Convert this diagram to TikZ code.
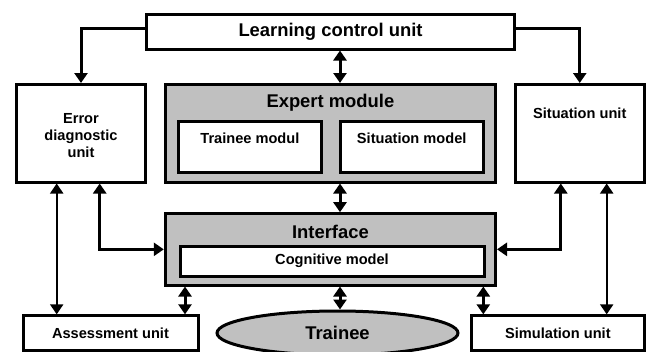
\documentclass[tikz,border=0pt]{standalone}
\usepackage{fontspec}
\setmainfont{Liberation Sans}
\usetikzlibrary{arrows.meta, positioning, shapes.geometric}
\definecolor{boxgray}{RGB}{192,192,192}

\begin{document}
\begin{tikzpicture}[x=1pt, y=-1pt,
    box/.style={draw, line width=3pt, fill=white, inner sep=0pt},
    graybox/.style={box, fill=boxgray},
    small/.style={font=\bfseries\fontsize{14.6}{16.8}\selectfont, align=center, inner sep=0pt},
    big/.style={font=\bfseries\fontsize{18.4}{21}\selectfont, align=center, inner sep=0pt},
    link/.style={line width=3pt, >={Triangle[width=13pt,length=10pt]}},
    thinlink/.style={link, line width=2pt},
  ]
  \useasboundingbox (0,0) rectangle (651,351);

  % x positions of the vertical links
  \coordinate (xa) at (56.7,0);
  \coordinate (xb) at (99.7,0);
  \coordinate (xc) at (185,0);
  \coordinate (xd) at (340,0);
  \coordinate (xe) at (483.3,0);
  \coordinate (xf) at (560.8,0);
  \coordinate (xg) at (606.7,0);

  % boxes
  \node[box, big, minimum width=368pt, minimum height=35pt] (lcu) at (330.5,31.5) {Learning control unit};
  \node[box, minimum width=129pt, minimum height=97.5pt] (edu) at (81,133.25) {};
  \node[graybox, minimum width=330.2pt, minimum height=97.5pt] (em) at (330.4,133.25) {};
  \node[box, minimum width=143.2pt, minimum height=51.2pt] (tm) at (249.9,146.9) {};
  \node[box, minimum width=143.3pt, minimum height=51.2pt] (smod) at (411.7,146.9) {};
  \node[box, minimum width=129.5pt, minimum height=97.5pt] (sun) at (579.75,133.25) {};
  \node[graybox, minimum width=330.2pt, minimum height=71.3pt] (ifc) at (330.4,249.35) {};
  \node[box, small, minimum width=304pt, minimum height=29.7pt] (cm) at (332,261.15) {Cognitive model};
  \node[box, small, minimum width=175pt, minimum height=34.3pt] (asu) at (110.5,333) {Assessment unit};
  \node[box, small, minimum width=173.2pt, minimum height=34.3pt] (simu) at (557.9,333) {Simulation unit};
  \node[graybox, big, ellipse, minimum width=241pt, minimum height=44pt] (tr) at (337.5,333) {Trainee};

  % labels at the top of the boxes
  \node[small, below=30.6pt of edu.north] (edu-t) {Error\\diagnostic\\unit};
  \node[big, below=11.3pt of em.north] (em-t) {Expert module};
  \node[small, below=12.5pt of tm.north] (tm-t) {Trainee modul};
  \node[small, below=12.5pt of smod.north] (smod-t) {Situation model};
  \node[small, below=24.9pt of sun.north] (sun-t) {Situation unit};
  \node[big, below=12.4pt of ifc.north] (ifc-t) {Interface};

  % links
  \draw[link, ->] ([yshift=3pt]lcu.west) -| (edu.north);
  \draw[link, ->] ([yshift=3pt]lcu.east) -| (sun.north);
  \draw[link, <->] (lcu.south -| xd) -- (em.north -| xd);
  \draw[link, <->] (em.south -| xd) -- (ifc.north -| xd);
  \draw[thinlink, <->] (edu.south -| xa) -- (asu.north -| xa);
  \draw[link, <->] (edu.south -| xb) |- (ifc.west);
  \draw[link, <->] (sun.south -| xf) |- (ifc.east);
  \draw[thinlink, <->] (sun.south -| xg) -- (simu.north -| xg);
  \draw[link, <->] (ifc.south -| xc) -- (asu.north -| xc);
  \draw[link, <->] (ifc.south -| xd) -- (tr.north -| xd);
  \draw[link, <->] (ifc.south -| xe) -- (simu.north -| xe);
\end{tikzpicture}
\end{document}
